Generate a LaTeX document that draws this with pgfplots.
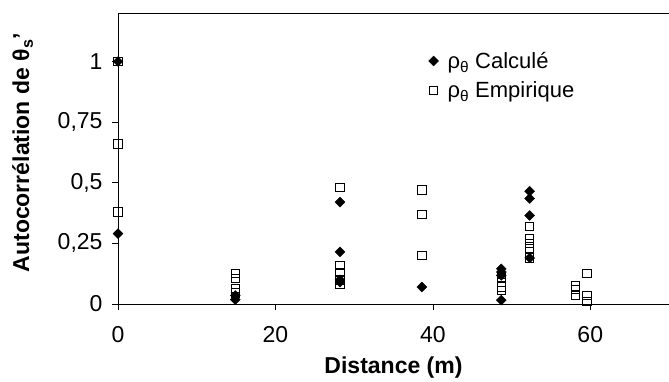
\documentclass[border=0pt]{standalone}
\usepackage{fontspec}
\setmainfont{Liberation Sans}
\usepackage{pgfplots}
\pgfplotsset{compat=1.18}
\begin{document}
\begin{tikzpicture}[font=\fontsize{22bp}{26bp}\selectfont]
\path[use as bounding box] (-118bp,-78bp) rectangle (551bp,304bp);
\begin{axis}[
  scale only axis,
  width=551bp, height=291bp,
  xmin=0, xmax=70, ymin=0, ymax=1.2,
  axis x line*=bottom, axis y line*=left,
  xtick={0,20,40,60},
  ytick={0,0.25,0.5,0.75,1},
  yticklabels={0,{0,25},{0,5},{0,75},1},
  /pgf/number format/assume math mode=true,
  tick align=outside,
  major tick length=6bp,
  tick style={black, line width=0.6pt},
  axis line style={black, line width=0.8pt},
  tick label style={font=\fontsize{23bp}{27bp}\selectfont},
  xticklabel style={yshift=-13bp},
  yticklabel style={xshift=-6bp},
  xlabel={Distance (m)},
  label style={font=\fontsize{23bp}{27bp}\selectfont\bfseries},
  xlabel style={at={(axis description cs:0.5,0)}, anchor=base, yshift=-69bp},
  ylabel={Autocorrélation de θ\textsubscript{s}'},
  ylabel style={at={(axis description cs:-0.173,0.52)}, anchor=center},
  clip=false,
  legend style={draw=none, fill=none, at={(axis description cs:0.558,0.88)}, anchor=north west,
    font=\fontsize{22bp}{26bp}\selectfont, row sep=8bp, cells={anchor=west}},
  legend cell align=left,
  after end axis/.code={\draw[black, line width=0.8pt] (rel axis cs:0,1)--(rel axis cs:1,1);},
]
\addplot[only marks, mark=square*, mark size=3.5bp, mark options={rotate=45, fill=black, draw=black}] coordinates {
(0,1.0) (0,0.29)
(14.9,0.018) (14.9,0.035)
(28.2,0.42) (28.2,0.215) (28.2,0.10) (28.2,0.09)
(38.6,0.07)
(48.7,0.145) (48.7,0.132) (48.7,0.118) (48.7,0.016)
(52.3,0.465) (52.3,0.435) (52.3,0.365) (52.3,0.19)
};
\addlegendentry{\hspace*{7bp}ρ\textsubscript{θ} Calculé}
\addplot[only marks, mark=square, mark size=4.2bp, mark options={draw=black, line width=0.9pt}] coordinates {
(0,1.0) (0,0.66) (0,0.38)
(14.9,0.125) (14.9,0.105) (14.9,0.065) (14.9,0.045)
(28.2,0.48) (28.2,0.16) (28.2,0.13) (28.2,0.10) (28.2,0.08)
(38.6,0.47) (38.6,0.37) (38.6,0.20)
(48.7,0.11) (48.7,0.09) (48.7,0.07) (48.7,0.055)
(52.3,0.32) (52.3,0.27) (52.3,0.25) (52.3,0.23) (52.3,0.19)
(58.1,0.075) (58.1,0.06) (58.1,0.035)
(59.6,0.125) (59.6,0.035) (59.6,0.01)
};
\addlegendentry{\hspace*{7bp}ρ\textsubscript{θ} Empirique}
\end{axis}
\end{tikzpicture}
\end{document}
